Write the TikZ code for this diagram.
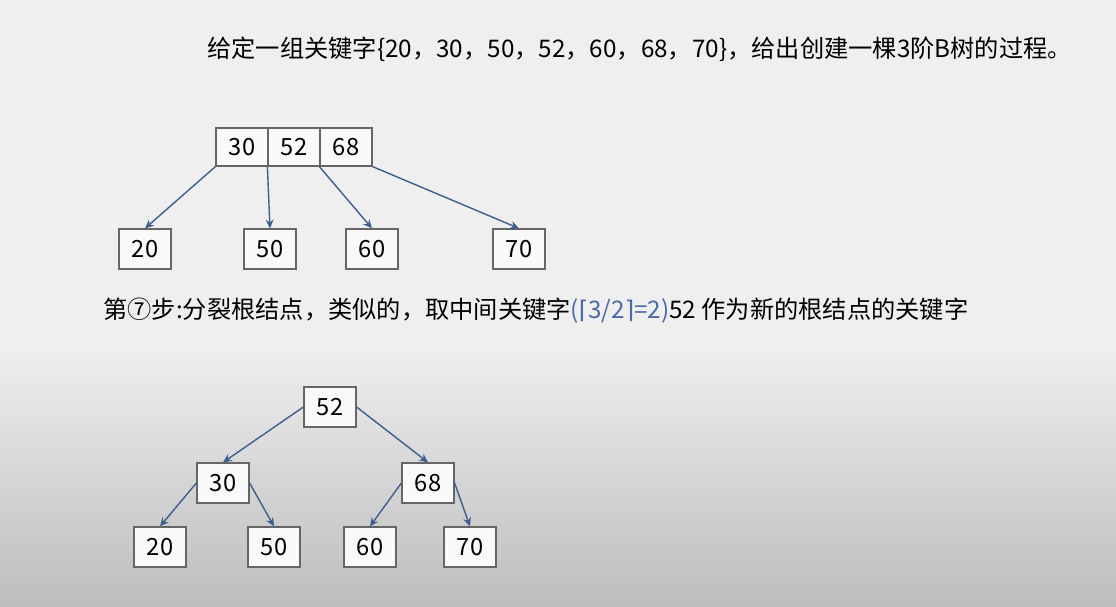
\documentclass[tikz,border=0pt]{standalone}
\usepackage{fontspec}
\setmainfont{Noto Sans CJK SC}
\newfontfamily\symfont{DejaVu Sans}
\usetikzlibrary{arrows.meta}

\definecolor{bgtop}{HTML}{EFEFEF}
\definecolor{bgbot}{HTML}{BDBDBD}
\definecolor{boxline}{HTML}{666666}
\definecolor{arrowblue}{HTML}{3D5F8F}
\definecolor{noteblue}{HTML}{4A6AA8}

\tikzset{
    keybox/.style = {draw=boxline, line width=0.7pt, fill=white!60!bgtop, minimum width=1.04cm,
                     minimum height=0.8cm, inner sep=0pt, font=\fontsize{13.5}{15}\selectfont},
    keycell/.style = {keybox, minimum height=0.76cm},
    link/.style = {arrowblue, thick, -{Stealth[length=5pt,width=4.5pt]}},
    caption/.style = {anchor=west, inner sep=0pt, font=\fontsize{13.8}{16}\selectfont}
}

\begin{document}
\begin{tikzpicture}[x=0.02cm, y=-0.02cm]
    % Background
    \useasboundingbox (0,0) rectangle (1116,606);
    \fill[bgtop] (0,0) rectangle (1116,345);
    \shade[top color=bgtop, bottom color=bgbot] (0,345) rectangle (1116,606);

    % Texts
    \node[caption] (title) at (207,49)
        {给定一组关键字\{20，30，50，52，60，68，70\}，给出创建一棵3阶B树的过程。};
    \node[caption] (step) at (103,311)
        {第⑦步:分裂根结点，类似的，取中间关键字\textcolor{noteblue}{({\symfont⌈}3/2{\symfont⌉}=2)}52 作为新的根结点的关键字};

    % Upper tree
    \node[keycell] (r30) at (242,147) {30};
    \node[keycell] (r52) at (294,147) {52};
    \node[keycell] (r68) at (346,147) {68};

    \node[keybox] (a20) at (145,249) {20};
    \node[keybox] (a50) at (270,249) {50};
    \node[keybox] (a60) at (372,249) {60};
    \node[keybox] (a70) at (519,249) {70};

    \draw[link] (r30.south west) -- (a20.north);
    \draw[link] (r52.south west) -- (a50.north);
    \draw[link] (r68.south west) -- (a60.north);
    \draw[link] (r68.south east) -- (a70.north);

    % Lower tree
    \node[keybox] (b52) at (330,407) {52};
    \node[keybox] (b30) at (223,483) {30};
    \node[keybox] (b68) at (428,483) {68};

    \node[keybox] (c20) at (160,547) {20};
    \node[keybox] (c50) at (274,547) {50};
    \node[keybox] (c60) at (370,547) {60};
    \node[keybox] (c70) at (470,547) {70};

    \draw[link] (b52.west) -- (b30.north);
    \draw[link] (b52.east) -- (b68.north);
    \draw[link] (b30.west) -- (c20.north);
    \draw[link] (b30.east) -- (c50.north);
    \draw[link] (b68.west) -- (c60.north);
    \draw[link] (b68.east) -- (c70.north);
\end{tikzpicture}
\end{document}
